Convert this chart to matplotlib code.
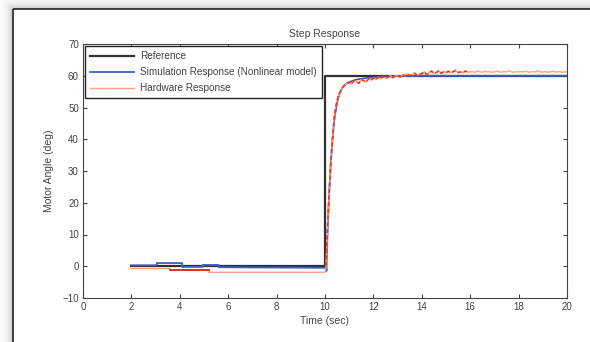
import matplotlib.pyplot as plt
from matplotlib.patches import Rectangle
import numpy as np

plt.rcParams['font.family'] = ['Liberation Sans', 'DejaVu Sans']

# reference step
ref_t = [2.0, 10.0, 10.0, 20.0]
ref_y = [0.0, 0.0, 60.0, 60.0]

# simulation response (nonlinear model)
sim_t = [2.0, 3.05, 3.05, 4.1, 4.1, 4.95, 4.95, 5.6, 5.6, 10.05,
         10.06, 10.08, 10.12, 10.18, 10.25, 10.32, 10.4, 10.5, 10.6, 10.7,
         10.85, 11.0, 11.3, 11.7, 12.2, 13.0, 14.0, 20.0]
sim_y = [0.3, 0.3, 1.0, 1.0, -0.2, -0.2, 0.4, 0.4, -0.3, -0.5,
         -1.5, 5.0, 14.0, 24.0, 34.0, 41.0, 47.0, 51.5, 54.5, 56.0,
         57.3, 58.0, 58.8, 59.3, 59.6, 59.9, 60.0, 60.0]

# hardware response
hw_t_pre = [2.0, 3.6, 3.6, 5.2, 5.2, 10.0, 10.04, 10.07, 10.12, 10.17,
            10.23, 10.3, 10.37, 10.44, 10.5, 10.6, 10.74, 10.85]
hw_y_pre = [-0.7, -0.7, -1.2, -1.2, -1.9, -1.9, 0.0, 6.0, 15.0, 23.0,
            31.0, 38.7, 46.0, 50.0, 52.3, 54.5, 56.5, 57.3]
hw_t_noise = np.round(np.arange(11.0, 20.01, 0.1), 2)
hw_y_noise = [58.0, 57.4, 58.5, 58.2, 57.6, 58.9, 58.4, 58.0, 59.1, 58.6,
              59.3, 58.8, 59.6, 59.0, 59.8, 59.2, 59.5, 60.1, 59.4, 59.9,
              60.0, 59.6, 60.4, 59.9, 60.6, 60.1, 60.3, 60.8, 60.2, 60.5,
              60.6, 61.3, 60.4, 60.9, 61.5, 60.7, 61.0, 61.6, 60.8, 61.2,
              61.0, 61.4, 60.9, 61.3, 61.7, 61.0, 61.2, 60.9, 61.5, 61.1,
              61.2, 61.3, 61.0, 61.6, 61.2, 61.1, 61.4, 61.2, 61.3, 61.1,
              61.2, 61.5, 61.2, 61.1, 61.3, 61.2, 61.6, 61.2, 61.1, 61.3,
              61.2, 61.3, 61.2, 61.5, 61.1, 61.2, 61.3, 61.2, 61.6, 61.2,
              61.2, 61.3, 61.1, 61.2, 61.5, 61.2, 61.2, 61.3, 61.1, 61.2, 61.2]
hw_t = list(hw_t_pre) + list(hw_t_noise)
hw_y = list(hw_y_pre) + list(hw_y_noise)

TXT = '#444444'

fig = plt.figure(figsize=(5.9, 3.42), dpi=100)
fig.patch.set_facecolor('white')

# window shadow + frame of the screenshot
bg = fig.add_axes([0, 0, 1, 1], zorder=-5)
bg.set_xlim(0, 590)
bg.set_ylim(342, 0)
bg.axis('off')
xx, yy = np.meshgrid(np.arange(590), np.arange(342))
d = np.maximum(np.where(xx < 13, 13 - xx, 0), np.where(yy < 9, 9 - yy, 0))
shade = np.where(d > 0, 0.80 + 0.2 * (1 - np.exp(-(d - 1) / 5.0)), 1.0)
bg.imshow(shade, cmap='gray', vmin=0, vmax=1, extent=(0, 590, 342, 0), aspect='auto')
bg.add_patch(Rectangle((13, 9), 600, 400, facecolor='none', edgecolor='#222222', lw=1.2))

ax = fig.add_axes([83 / 590, 1 - 298 / 342, 484 / 590, 254 / 342])
ax.plot(ref_t, ref_y, color='#303030', lw=1.6, label='Reference', zorder=2)
ax.plot(sim_t, sim_y, color='#3a5fc8', lw=1.3, label='Simulation Response (Nonlinear model)', zorder=3)
ax.plot(hw_t, hw_y, color='#ffa088', lw=1.0, label='Hardware Response', zorder=4)
n_red = len(hw_t_pre) + 50
ax.plot(hw_t[6:n_red], hw_y[6:n_red], color='#ee3a1c', lw=1.2, ls=(0, (2.5, 1.5)), zorder=5)
ax.plot(hw_t[2:4], hw_y[2:4], color='#e0301a', lw=1.4, zorder=5)

ax.set_xlim(0, 20)
ax.set_ylim(-10, 70)
ax.set_xticks(np.arange(0, 21, 2))
ax.set_yticks(np.arange(-10, 71, 10))
ax.tick_params(direction='in', length=3, width=0.8, top=True, right=True,
               labelsize=7, colors=TXT, pad=3)
for s in ax.spines.values():
    s.set_linewidth(0.8)
    s.set_color('#444444')

ax.set_title('Step Response', fontsize=7.5, color=TXT, pad=5)
ax.set_xlabel('Time (sec)', fontsize=7.5, color=TXT, labelpad=3)
ax.set_ylabel('Motor Angle (deg)', fontsize=7.5, color=TXT, labelpad=6)

leg = ax.legend(loc='upper left', fontsize=7.2, frameon=True, fancybox=False,
                edgecolor='#222222', handlelength=4.4, handletextpad=0.6,
                labelspacing=0.6, borderaxespad=0.2, borderpad=0.5)
leg.get_frame().set_linewidth(1.0)
leg.get_frame().set_alpha(1)
for t in leg.get_texts():
    t.set_color(TXT)

fig.savefig('out.png', dpi=100)
